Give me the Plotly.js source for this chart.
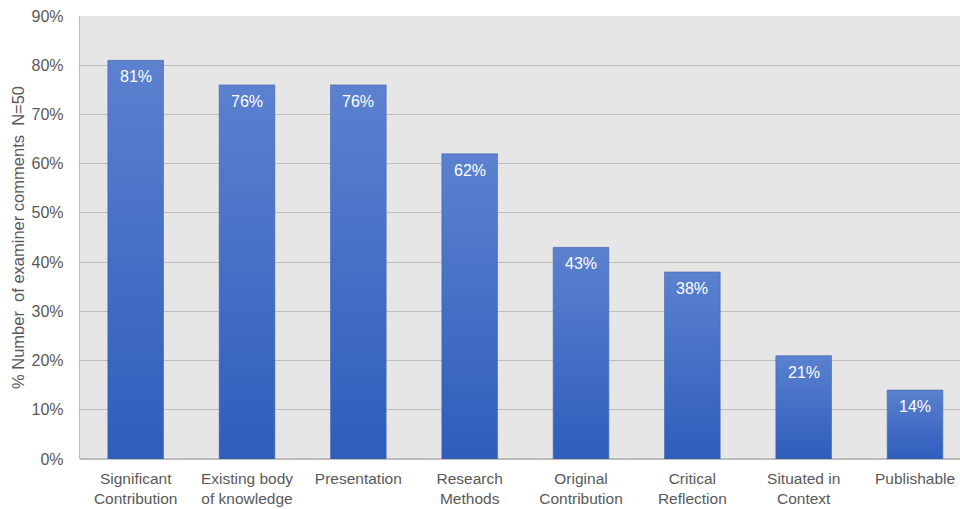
<!DOCTYPE html>
<html>
<head>
<meta charset="utf-8">
<script src="https://cdn.plot.ly/plotly-3.0.1.min.js"></script>
<style>html,body{margin:0;padding:0;background:#fff;}#chart{width:960px;height:509px;}</style>
</head>
<body>
<div id="chart"></div>
<script>
var categories = ["Significant<br>Contribution", "Existing body<br>of knowledge", "Presentation", "Research<br>Methods", "Original<br>Contribution", "Critical<br>Reflection", "Situated in<br>Context", "Publishable"];
var values = [81, 76, 76, 62, 43, 38, 21, 14];
var valueLabels = values.map(function (v) { return v + "%"; });
var yTickVals = [0, 10, 20, 30, 40, 50, 60, 70, 80, 90];
var yTickText = yTickVals.map(function (v) { return v + "%"; });

var font = "Liberation Sans, Arial, Helvetica, sans-serif";

var trace = {
  type: "bar",
  x: categories.map(function (c, i) { return i; }),
  y: values,
  width: 0.5,
  marker: { color: "#4570c8", line: { color: "rgba(70,100,170,0.6)", width: 1 } },
  hoverinfo: "none"
};

var annotations = values.map(function (v, i) {
  return {
    x: i, y: v, xref: "x", yref: "y",
    text: valueLabels[i], showarrow: false,
    yanchor: "top", yshift: -6,
    font: { family: font, size: 16, color: "#ffffff", weight: 500 }
  };
});

var layout = {
  width: 960, height: 509,
  margin: { l: 80, r: 0, t: 16, b: 50, pad: 0 },
  paper_bgcolor: "#ffffff",
  plot_bgcolor: "#e6e6e6",
  showlegend: false,
  bargap: 0.5,
  xaxis: {
    range: [-0.5, 7.404],
    tickmode: "array",
    tickvals: categories.map(function (c, i) { return i; }),
    ticktext: categories,
    showgrid: false, zeroline: false, showline: false, ticks: "",
    ticklabelstandoff: 8,
    tickfont: { family: font, size: 15.5, color: "#595959" },
    fixedrange: true
  },
  yaxis: {
    range: [0, 90],
    tickmode: "array",
    tickvals: yTickVals, ticktext: yTickText,
    showgrid: true, gridcolor: "#bdbdbd", gridwidth: 1.2,
    zeroline: true, zerolinecolor: "#bdbdbd", zerolinewidth: 1.2,
    showline: true, linecolor: "#bdbdbd", linewidth: 1.2,
    ticks: "", ticklabelstandoff: 12,
    tickfont: { family: font, size: 16, color: "#595959" },
    title: { text: "% Number  of examiner comments  N=50", standoff: 2,
             font: { family: font, size: 16.5, color: "#595959" } },
    fixedrange: true
  },
  annotations: annotations
};

Plotly.newPlot("chart", [trace], layout, { displayModeBar: false, staticPlot: true }).then(function (gd) {
  var svg = gd.querySelector("svg.main-svg");
  var defs = svg.querySelector("defs");
  var ns = "http://www.w3.org/2000/svg";
  var grad = document.createElementNS(ns, "linearGradient");
  grad.setAttribute("id", "barGrad");
  grad.setAttribute("x1", "0"); grad.setAttribute("y1", "0");
  grad.setAttribute("x2", "0"); grad.setAttribute("y2", "1");
  var s1 = document.createElementNS(ns, "stop");
  s1.setAttribute("offset", "0"); s1.setAttribute("stop-color", "#5b81cf");
  var s2 = document.createElementNS(ns, "stop");
  s2.setAttribute("offset", "1"); s2.setAttribute("stop-color", "#2e5dbc");
  grad.appendChild(s1); grad.appendChild(s2);
  defs.appendChild(grad);
  gd.querySelectorAll(".bars .point path").forEach(function (p) {
    p.style.fill = "url(#barGrad)";
  });
});
</script>
</body>
</html>
